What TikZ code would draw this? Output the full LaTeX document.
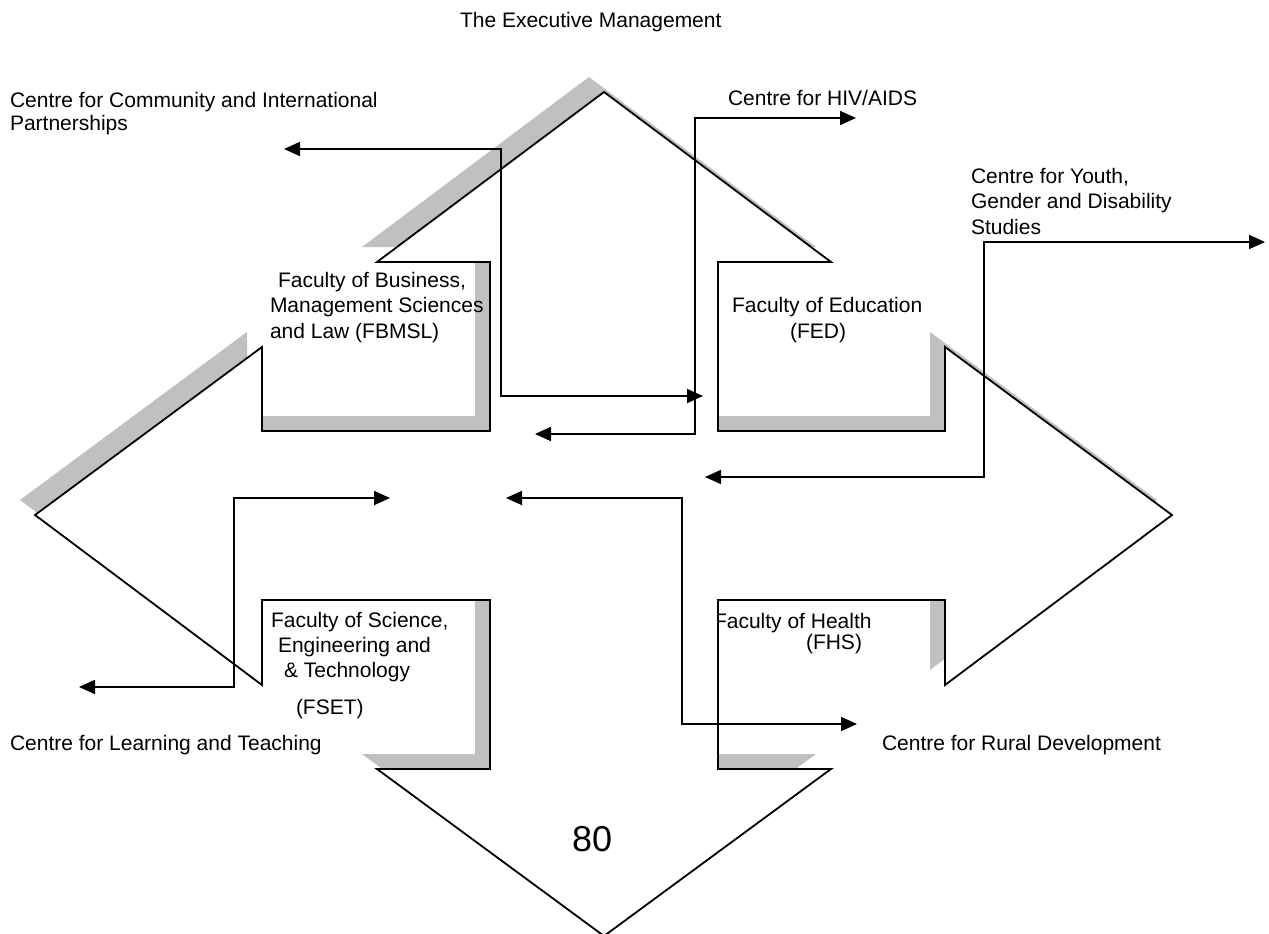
\documentclass[tikz,border=0pt]{standalone}
\usepackage{fontspec}
\setmainfont{Liberation Sans}
\usetikzlibrary{arrows.meta}

\definecolor{shadowgray}{RGB}{192,192,192}

% Outline of the four-way arrow (pixel units, y downwards)
\newcommand{\fourwayoutline}{%
  (604,92) -- (831,262) -- (718,262) -- (718,431) -- (945,431) -- (945,347)
  -- (1172,515) -- (945,685) -- (945,600) -- (718,600) -- (718,769)
  -- (831,769) -- (604,936) -- (377,769) -- (490,769) -- (490,600)
  -- (262,600) -- (262,685) -- (35,515) -- (262,347) -- (262,431)
  -- (490,431) -- (490,262) -- (377,262) -- cycle}

\tikzset{
  lbl/.style={anchor=base west, inner sep=0pt, outer sep=0pt,
              font=\fontsize{21}{25}\selectfont},
  bignum/.style={lbl, font=\fontsize{36}{40}\selectfont},
  dconn/.style={line width=1.8pt, line join=miter,
    {Triangle[length=16pt,width=14pt]}-{Triangle[length=16pt,width=14pt]}},
  outline/.style={draw=black, line width=1.8pt, fill=white, line join=miter},
  dropshadow/.style={fill=shadowgray},
}

\begin{document}
\begin{tikzpicture}[x=1pt,y=-1pt]
\useasboundingbox (0,0) rectangle (1269,934);
\fill[white] (0,0) rectangle (1269,934);

% drop shadow, then the arrow shape on top
\fill[dropshadow, shift={(-15,-15)}] \fourwayoutline;
\path[outline] \fourwayoutline;

% labels
\node[lbl] (exec) at (460,28) {The Executive Management};
\node[lbl] (ccip1) at (10,107) {Centre for Community and International};
\node[lbl] (ccip2) at (10,130) {Partnerships};
\node[lbl] (hiv) at (728,106) {Centre for HIV/AIDS};
\node[lbl] (ygd1) at (971,183) {Centre for Youth,};
\node[lbl] (ygd2) at (971,208) {Gender and Disability};
\node[lbl] (ygd3) at (971,234) {Studies};
\node[lbl] (fbmsl1) at (278,287) {Faculty of Business,};
\node[lbl] (fbmsl2) at (270,312) {Management Sciences};
\node[lbl] (fbmsl3) at (270,338) {and Law (FBMSL)};
\node[lbl] (fed1) at (732,312) {Faculty of Education};
\node[lbl] (fed2) at (790,338) {(FED)};
\node[lbl] (fset1) at (271,627) {Faculty of Science,};
\node[lbl] (fset2) at (278,652) {Engineering and};
\node[lbl] (fset3) at (284,677) {\& Technology};
\node[lbl] (fset4) at (296,714) {(FSET)};
\node[lbl] (clt) at (10,750) {Centre for Learning and Teaching};
\begin{scope}
  \clip (718,590) rectangle (945,700);
  \node[lbl] (fhs1) at (714,628) {Faculty of Health};
\end{scope}
\node[lbl] (fhs2) at (806,649) {(FHS)};
\node[lbl] (crd) at (882,750) {Centre for Rural Development};
\node[bignum] (page) at (572,851) {80};

% connector end and bend points
\coordinate (c1a) at (284,149); \coordinate (c1p) at (501,149);
\coordinate (c1q) at (501,396); \coordinate (c1b) at (703,396);
\coordinate (c2a) at (535,434); \coordinate (c2p) at (695,434);
\coordinate (c2q) at (695,118); \coordinate (c2b) at (856,118);
\coordinate (c3a) at (705,477); \coordinate (c3p) at (984,477);
\coordinate (c3q) at (984,242); \coordinate (c3b) at (1265,242);
\coordinate (c4a) at (79,687);  \coordinate (c4p) at (234,687);
\coordinate (c4q) at (234,498); \coordinate (c4b) at (390,498);
\coordinate (c5a) at (506,498); \coordinate (c5p) at (682,498);
\coordinate (c5q) at (682,724); \coordinate (c5b) at (857,724);

\draw[dconn] (c1a) -- (c1p) -- (c1q) -- (c1b);
\draw[dconn] (c2a) -- (c2p) -- (c2q) -- (c2b);
\draw[dconn] (c3a) -- (c3p) -- (c3q) -- (c3b);
\draw[dconn] (c4a) -- (c4p) -- (c4q) -- (c4b);
\draw[dconn] (c5a) -- (c5p) -- (c5q) -- (c5b);
\end{tikzpicture}
\end{document}
